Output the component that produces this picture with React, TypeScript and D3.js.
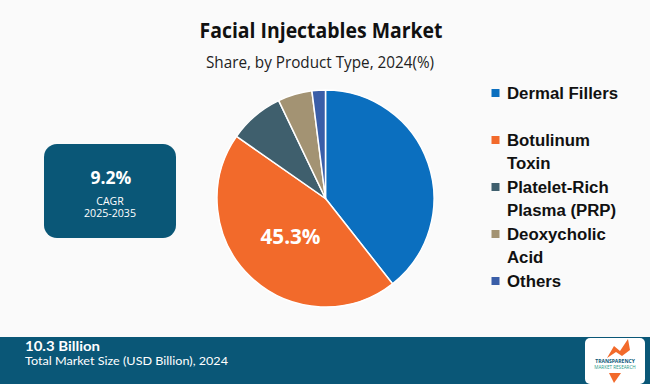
import React from "react";
import * as d3 from "d3";

const categories = ["Dermal Fillers", "Botulinum Toxin", "Platelet-Rich Plasma (PRP)", "Deoxycholic Acid", "Others"];
const shares = [39.4, 45.3, 8.2, 5.1, 2.0];
const colors = ["#0b6fbf", "#f26a2b", "#3f5f6d", "#a39373", "#3a5ea8"];
const legendLines = [["Dermal Fillers"], ["Botulinum", "Toxin"], ["Platelet-Rich", "Plasma (PRP)"], ["Deoxycholic", "Acid"], ["Others"]];
const labelIndex = 1;

const W = 650, H = 384;
const cx = 325.5, cy = 198.5, R = 108.5;
const FONT = "'Open Sans', 'DejaVu Sans', sans-serif";
const LFONT = "'Liberation Sans', Arial, sans-serif";
const FFONT = "Lato, 'Open Sans', sans-serif";

export default function App() {
  const data = categories.map((c, i) => ({ c, v: shares[i], i }));
  const pie = d3.pie<any>().value((d: any) => d.v).sort(null);
  const arcs = pie(data);
  const arc = d3.arc<any>().innerRadius(0).outerRadius(R);
  const labelArc = d3.arc<any>().innerRadius(R * 0.47).outerRadius(R * 0.47);

  const legendStarts = [93, 140, 187, 234, 281];
  const lh = 23.5;

  return (
    <svg width={W} height={H} style={{ position: "absolute", left: 0, top: 0 }}>
      <rect x={0} y={0} width={W} height={H} fill="#fafafa" />
      <text x={321} y={38} textAnchor="middle" fontFamily={FONT} fontWeight={700} fontSize={21.5} fill="#111" textLength={243} lengthAdjust="spacingAndGlyphs">
        Facial Injectables Market
      </text>
      <text x={320} y={67.5} textAnchor="middle" fontFamily={FONT} fontSize={16} fill="#222" textLength={228} lengthAdjust="spacingAndGlyphs">
        Share, by Product Type, 2024(%)
      </text>

      <g transform={`translate(${cx},${cy})`}>
        {arcs.map((a, i) => (
          <path key={i} d={arc(a) as string} fill={colors[i]} stroke="#ffffff" strokeWidth={1.5} />
        ))}
        {(() => {
          const a = arcs[labelIndex];
          const [lx, ly] = labelArc.centroid(a);
          return (
            <text x={lx} y={ly} textAnchor="middle" dominantBaseline="central" fontFamily={FONT} fontWeight={700} fontSize={21} fill="#ffffff" textLength={60} lengthAdjust="spacingAndGlyphs">
              {shares[labelIndex].toFixed(1)}%
            </text>
          );
        })()}
      </g>

      <rect x={44} y={144} width={132} height={94} rx={13} fill="#0a5777" />
      <text x={111} y={177} textAnchor="middle" dominantBaseline="central" fontFamily={FONT} fontWeight={700} fontSize={17.5} fill="#fff">9.2%</text>
      <text x={110} y={200.5} textAnchor="middle" dominantBaseline="central" fontFamily={FONT} fontSize={10.5} fill="#fff">CAGR</text>
      <text x={110} y={213} textAnchor="middle" dominantBaseline="central" fontFamily={FONT} fontSize={10.5} fill="#fff" textLength={52} lengthAdjust="spacingAndGlyphs">2025-2035</text>

      {legendLines.map((lines, i) => (
        <g key={i}>
          <rect x={491.5} y={legendStarts[i] - 4} width={8} height={8} fill={colors[i]} />
          {lines.map((t, j) => (
            <text key={j} x={507} y={legendStarts[i] + j * lh} dominantBaseline="central" fontFamily={LFONT} fontWeight={700} fontSize={16.8} fill="#111">
              {t}
            </text>
          ))}
        </g>
      ))}

      <rect x={0} y={337} width={W} height={47} fill="#0a5777" />
      <text x={25} y={351} fontFamily={FFONT} fontWeight={700} fontSize={13.5} fill="#fff" textLength={75} lengthAdjust="spacingAndGlyphs">10.3 Billion</text>
      <text x={25} y={365} fontFamily={FFONT} fontSize={12} fill="#fff" textLength={203} lengthAdjust="spacingAndGlyphs">Total Market Size (USD Billion), 2024</text>

      <g>
        <rect x={585} y={338} width={60} height={46} rx={5} fill="#ffffff" />
        <path d="M607,358 L614,346 L620,351 L628,339 L630,350 L622,356 L616,352 Z" fill="#f26a2b" />
        <text x={615} y={363} textAnchor="middle" fontFamily={FONT} fontWeight={700} fontSize={5} fill="#0a5777">TRANSPARENCY</text>
        <text x={615} y={369} textAnchor="middle" fontFamily={FONT} fontSize={4.6} fill="#2a9a8a">MARKET RESEARCH</text>
        <path d="M609,373 L621,373 L614,383 Z" fill="#f26a2b" />
      </g>
    </svg>
  );
}
